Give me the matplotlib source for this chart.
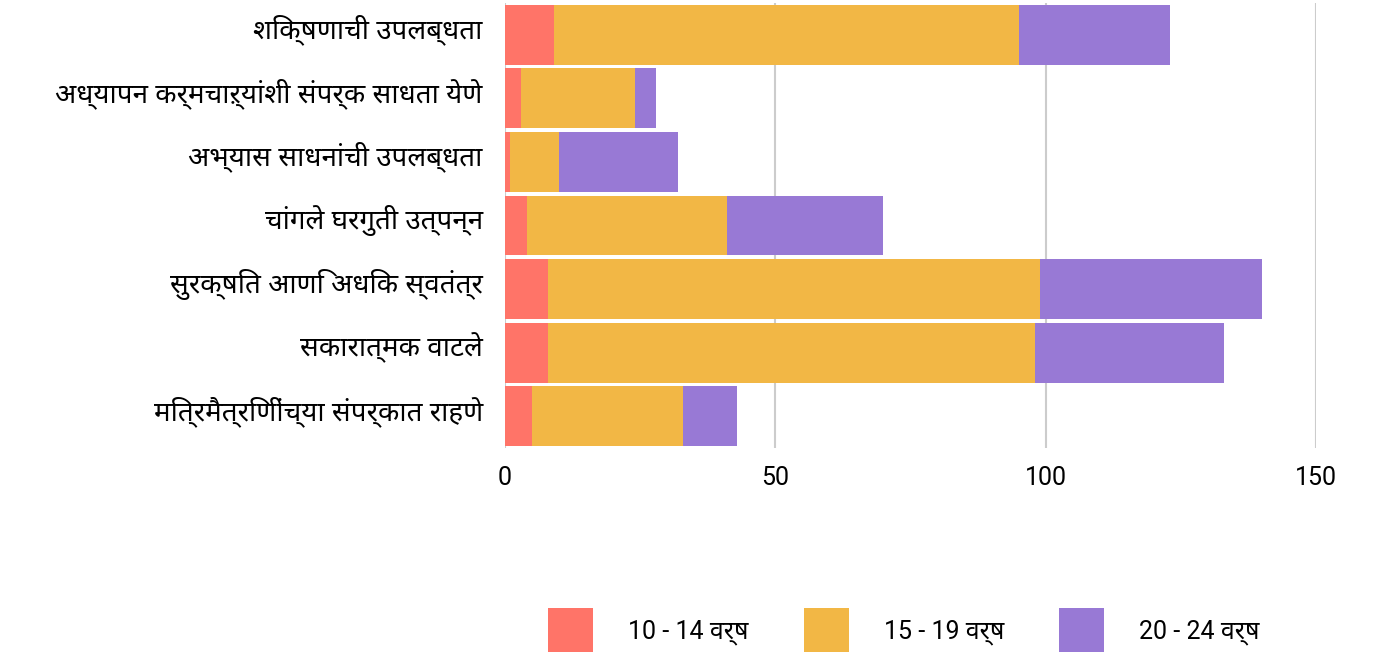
import matplotlib
matplotlib.use("Agg")
import matplotlib.pyplot as plt
from matplotlib import font_manager
import numpy as np

# data
labels = ['शिक्षणाची उपलब्धता',
          'अध्यापन कर्मचाऱ्यांशी संपर्क साधता येणे',
          'अभ्यास साधनांची उपलब्धता',
          'चांगले घरगुती उत्पन्न',
          'सुरक्षित आणि अधिक स्वतंत्र',
          'सकारात्मक वाटले',
          'मित्रमैत्रिणींच्या संपर्कात राहणे']
age_10_14 = [9, 3, 1, 4, 8, 8, 5]
age_15_19 = [86, 21, 9, 37, 91, 90, 28]
age_20_24 = [28, 4, 22, 29, 41, 35, 10]
series_names = ['10 - 14 वर्ष', '15 - 19 वर्ष', '20 - 24 वर्ष']
colors = ['#FF7468', '#F2B745', '#9879D5']
xticks = [0, 50, 100, 150]

installed = {f.name for f in font_manager.fontManager.ttflist}
deva = next((n for n in ['Noto Sans Devanagari', 'Mukta', 'Hind', 'Ek Mukta', 'FreeSans']
             if n in installed), 'DejaVu Sans')
latin = 'Roboto' if 'Roboto' in installed else 'DejaVu Sans'
plt.rcParams['font.family'] = [latin, deva]

fig = plt.figure(figsize=(13.84, 6.52), dpi=100)
ax = fig.add_axes([505 / 1384, 1 - 448 / 652, (1316 - 505) / 1384, 445 / 652])

y = np.arange(len(labels))
left = np.zeros(len(labels))
for vals, name, c in zip([age_10_14, age_15_19, age_20_24], series_names, colors):
    ax.barh(y, vals, left=left, height=0.94, color=c, label=name, zorder=3)
    left += np.array(vals)

ax.set_ylim(len(labels) - 0.5, -0.5)
ax.set_xlim(0, 150)
# tick marks are hidden; labels sit a little above the bar centres in the reference
ax.set_yticks(y - 0.13)
ax.set_yticklabels(labels, fontsize=20, family=[deva])
ax.set_xticks(xticks)
ax.set_xticklabels([str(t) for t in xticks], fontsize=18)
ax.tick_params(axis='y', length=0, pad=16)
ax.tick_params(axis='x', length=0, pad=13)
ax.xaxis.grid(True, color='#CCCCCC', linewidth=1.5, zorder=0)
ax.set_axisbelow(True)
for s in ax.spines.values():
    s.set_visible(False)

fig.legend(loc='center', bbox_to_anchor=(904 / 1384, 1 - 631 / 652), ncol=3,
           frameon=False, fontsize=18, handlelength=1.8, handleheight=2.4,
           handletextpad=1.4, columnspacing=2.2)

fig.savefig('out.png', dpi=100)
